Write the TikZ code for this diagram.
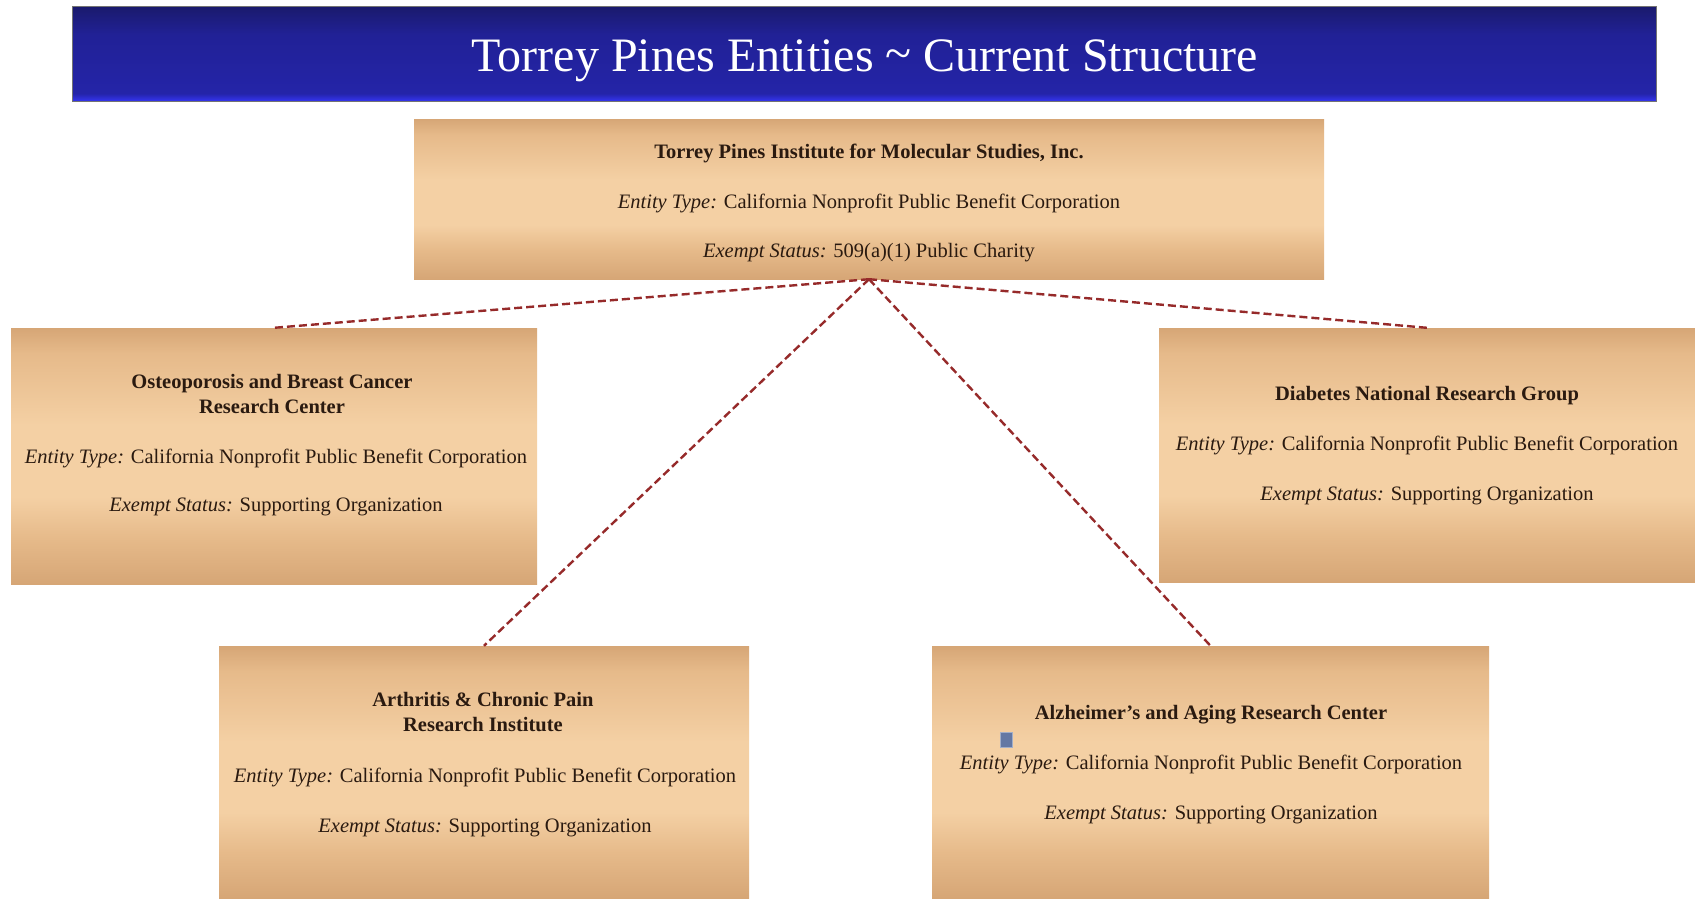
\documentclass[tikz,border=0pt]{standalone}
\usepackage{fontspec}
\setmainfont{Liberation Serif}
\usetikzlibrary{calc}

\definecolor{navytop}{HTML}{1A1A6C}
\definecolor{navymid}{HTML}{2424A8}
\definecolor{navybot}{HTML}{3434F0}
\definecolor{tandark}{HTML}{D6A676}
\definecolor{tanmid}{HTML}{E6BA8A}
\definecolor{tanlight}{HTML}{F4D0A4}
\definecolor{inkbrown}{HTML}{2A1A10}
\definecolor{linkred}{HTML}{962A2A}
\definecolor{markblue}{HTML}{6478A4}

% header band: dark navy at the top, brighter blue along the bottom edge
\pgfdeclareverticalshading{bandshade}{100bp}{%
  color(0bp)=(navybot); color(25bp)=(navybot); color(29bp)=(navymid);
  color(60bp)=(navymid!70!navytop); color(75bp)=(navytop); color(100bp)=(navytop)}
% entity boxes: tan edges, light peach band through the middle
\pgfdeclareverticalshading{boxshade}{100bp}{%
  color(0bp)=(tandark); color(25bp)=(tandark); color(34bp)=(tanmid);
  color(42bp)=(tanlight); color(56bp)=(tanlight); color(70bp)=(tanmid);
  color(75bp)=(tandark); color(100bp)=(tandark)}

\tikzset{
  band/.style={rectangle, shading=bandshade, draw=black!55, line width=1pt,
    inner sep=0pt, minimum width=1584pt, minimum height=95pt},
  entity/.style={rectangle, shading=boxshade, inner sep=0pt},
  headline/.style={text=white, font=\fontsize{48}{56}\selectfont, anchor=base},
  boxtext/.style={text=inkbrown, font=\fontsize{20.5}{24}\selectfont, anchor=base,
    align=center, inner sep=0pt},
  boxtitle/.style={boxtext, font=\fontsize{20.5}{25}\selectfont\bfseries},
  link/.style={draw=linkred, line width=2.4pt, dash pattern=on 8pt off 4pt},
  tag/.style={rectangle, fill=markblue, draw=markblue!60!white, line width=1pt,
    minimum width=12pt, minimum height=15pt, inner sep=0pt}
}

\begin{document}
\begin{tikzpicture}[x=1pt,y=-1pt]
  \useasboundingbox[fill=white] (0,0) rectangle (1695,898);

  % title band
  \node[band] (band) at (864,53.5) {};
  \node[headline] (headtext) at (865,71) {Torrey Pines Entities {\raisebox{2pt}{\char`~}} Current Structure};

  % entity boxes
  \node[entity, minimum width=910pt, minimum height=160pt] (tpims) at (869,199) {};
  \node[entity, minimum width=526pt, minimum height=256pt] (obcrc) at (274,456) {};
  \node[entity, minimum width=536pt, minimum height=254pt] (dnrg) at (1427,455) {};
  \node[entity, minimum width=530pt, minimum height=252pt] (acpri) at (484,772) {};
  \node[entity, minimum width=557pt, minimum height=252pt] (aarc) at (1210.5,772) {};

  % dashed links from the institute to each supporting organization
  \draw[link] (tpims.south) -- (obcrc.north);
  \draw[link] (tpims.south) -- (dnrg.north);
  \draw[link] (tpims.south) -- (acpri.north);
  \draw[link] (tpims.south) -- (aarc.north);

  % Torrey Pines Institute
  \node[boxtitle] (tpimsname) at (869,158) {Torrey Pines Institute for Molecular Studies, Inc.};
  \node[boxtext] (tpimstype) at (869,208) {\textit{Entity Type:} California Nonprofit Public Benefit Corporation};
  \node[boxtext] (tpimsstat) at (869,257) {\textit{Exempt Status:} 509(a)(1) Public Charity};

  % Osteoporosis and Breast Cancer Research Center
  \node[boxtitle] (obcrcname) at (272,413) {Osteoporosis and Breast Cancer\\Research Center};
  \node[boxtext] (obcrctype) at (276,463) {\textit{Entity Type:} California Nonprofit Public Benefit Corporation};
  \node[boxtext] (obcrcstat) at (276,511) {\textit{Exempt Status:} Supporting Organization};

  % Diabetes National Research Group
  \node[boxtitle] (dnrgname) at (1427,400) {Diabetes National Research Group};
  \node[boxtext] (dnrgtype) at (1427,450) {\textit{Entity Type:} California Nonprofit Public Benefit Corporation};
  \node[boxtext] (dnrgstat) at (1427,500) {\textit{Exempt Status:} Supporting Organization};

  % Arthritis & Chronic Pain Research Institute
  \node[boxtitle] (acpriname) at (483,731) {Arthritis \& Chronic Pain\\Research Institute};
  \node[boxtext] (acpritype) at (485,782) {\textit{Entity Type:} California Nonprofit Public Benefit Corporation};
  \node[boxtext] (acpristat) at (485,832) {\textit{Exempt Status:} Supporting Organization};

  % Alzheimer's and Aging Research Center
  \node[boxtitle] (aarcname) at (1211,719) {Alzheimer's and Aging Research Center};
  \node[tag] (aarcmark) at (1006,740) {};
  \node[boxtext] (aarctype) at (1211,769) {\textit{Entity Type:} California Nonprofit Public Benefit Corporation};
  \node[boxtext] (aarcstat) at (1211,819) {\textit{Exempt Status:} Supporting Organization};
\end{tikzpicture}
\end{document}
